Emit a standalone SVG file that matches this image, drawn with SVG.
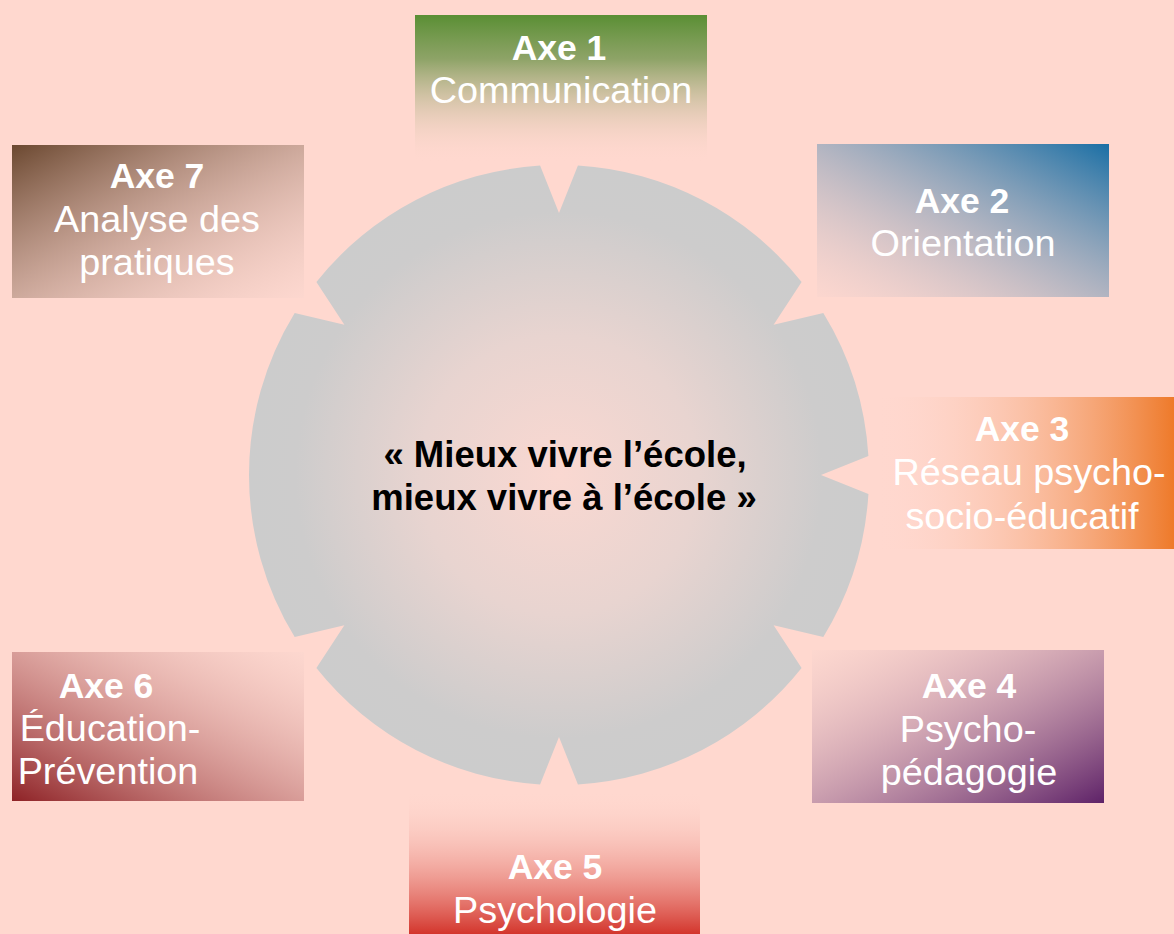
<svg xmlns="http://www.w3.org/2000/svg" width="1174" height="934" viewBox="0 0 1174 934">
<defs>
<style>
.t{font-family:"Liberation Sans",Arial,Helvetica,sans-serif;fill:#ffffff;text-anchor:middle}
.b{font-weight:bold;font-size:35.5px}
.r{font-size:37.8px}
.c{font-family:"Liberation Sans",Arial,Helvetica,sans-serif;fill:#000000;font-weight:bold;font-size:36.5px;text-anchor:middle}
</style>
<radialGradient id="gc" cx="559" cy="475" r="310" gradientUnits="userSpaceOnUse">
<stop offset="0" stop-color="#FAD8D1"/>
<stop offset="0.45" stop-color="#E8D4D0"/>
<stop offset="0.85" stop-color="#CDCCCC"/>
<stop offset="1" stop-color="#CCCCCC"/>
</radialGradient>
<linearGradient id="g1" x1="0" y1="0" x2="0" y2="1">
<stop offset="0" stop-color="#5A8F34"/>
<stop offset="0.3" stop-color="#7A9A55" stop-opacity="0.85"/>
<stop offset="1" stop-color="#FFD8CF" stop-opacity="0"/>
</linearGradient>
<linearGradient id="g2" x1="1" y1="0" x2="0" y2="1">
<stop offset="0" stop-color="#1A6FA5"/>
<stop offset="1" stop-color="#F5D3CE" stop-opacity="0.3"/>
</linearGradient>
<linearGradient id="g3" x1="1" y1="0" x2="0" y2="0">
<stop offset="0" stop-color="#EE7A2A"/>
<stop offset="1" stop-color="#FFD8CF" stop-opacity="0"/>
</linearGradient>
<linearGradient id="g4" x1="1" y1="1" x2="0" y2="0">
<stop offset="0" stop-color="#5E2268"/>
<stop offset="1" stop-color="#F8D6CF" stop-opacity="0.3"/>
</linearGradient>
<linearGradient id="g5" x1="0" y1="1" x2="0" y2="0">
<stop offset="0" stop-color="#D3352C"/>
<stop offset="1" stop-color="#FFD8CF" stop-opacity="0"/>
</linearGradient>
<linearGradient id="g6" x1="0" y1="1" x2="1" y2="0">
<stop offset="0" stop-color="#8E2226"/>
<stop offset="1" stop-color="#F8D6CF" stop-opacity="0.3"/>
</linearGradient>
<linearGradient id="g7" x1="0" y1="0" x2="1" y2="1">
<stop offset="0" stop-color="#6B4830"/>
<stop offset="1" stop-color="#F8D6CF" stop-opacity="0.3"/>
</linearGradient>
</defs>
<rect x="0" y="0" width="1174" height="934" fill="#FFD8CF"/>
<g id="connectors"/>
<g id="center">
<path d="M 540.07,165.58 L 559,213 L 577.93,165.58 A 310 310 0 0 1 801.61,282.02 L 773.62,324.72 L 823.32,313.03 A 310 310 0 0 1 868.42,456.07 L 821,475 L 868.42,493.93 A 310 310 0 0 1 823.32,636.97 L 773.62,625.28 L 801.61,667.98 A 310 310 0 0 1 577.93,784.42 L 559,737 L 540.07,784.42 A 310 310 0 0 1 316.39,667.98 L 344.38,625.28 L 294.68,636.97 A 310 310 0 0 1 294.68,313.03 L 344.38,324.72 L 316.39,282.02 A 310 310 0 0 1 540.07,165.58 Z" fill="url(#gc)"/>
<text class="c" x="565" y="467">« Mieux vivre l’école,</text>
<text class="c" x="564" y="510">mieux vivre à l’école »</text>
</g>
<g id="axe1">
<rect x="415" y="15" width="292" height="147" fill="url(#g1)"/>
<text class="t b" x="559" y="60">Axe 1</text>
<text class="t r" x="561" y="103">Communication</text>
</g>
<g id="axe2">
<rect x="817" y="144" width="292" height="153" fill="url(#g2)"/>
<text class="t b" x="962" y="213">Axe 2</text>
<text class="t r" x="963" y="256">Orientation</text>
</g>
<g id="axe3">
<rect x="876" y="397" width="298" height="152" fill="url(#g3)"/>
<text class="t b" x="1022" y="441">Axe 3</text>
<text class="t r" x="1029" y="485">Réseau psycho-</text>
<text class="t r" x="1022" y="529">socio-éducatif</text>
</g>
<g id="axe4">
<rect x="812" y="650" width="292" height="153" fill="url(#g4)"/>
<text class="t b" x="969" y="698">Axe 4</text>
<text class="t r" x="968" y="742">Psycho-</text>
<text class="t r" x="969" y="785">pédagogie</text>
</g>
<g id="axe5">
<rect x="409" y="790" width="291" height="144" fill="url(#g5)"/>
<text class="t b" x="555" y="879">Axe 5</text>
<text class="t r" x="555" y="923">Psychologie</text>
</g>
<g id="axe6">
<rect x="12" y="652" width="292" height="149" fill="url(#g6)"/>
<text class="t b" x="106" y="698">Axe 6</text>
<text class="t r" x="110" y="741">Éducation-</text>
<text class="t r" x="108" y="784">Prévention</text>
</g>
<g id="axe7">
<rect x="12" y="145" width="292" height="153" fill="url(#g7)"/>
<text class="t b" x="157" y="188">Axe 7</text>
<text class="t r" x="157" y="232">Analyse des</text>
<text class="t r" x="157" y="275">pratiques</text>
</g>
</svg>
